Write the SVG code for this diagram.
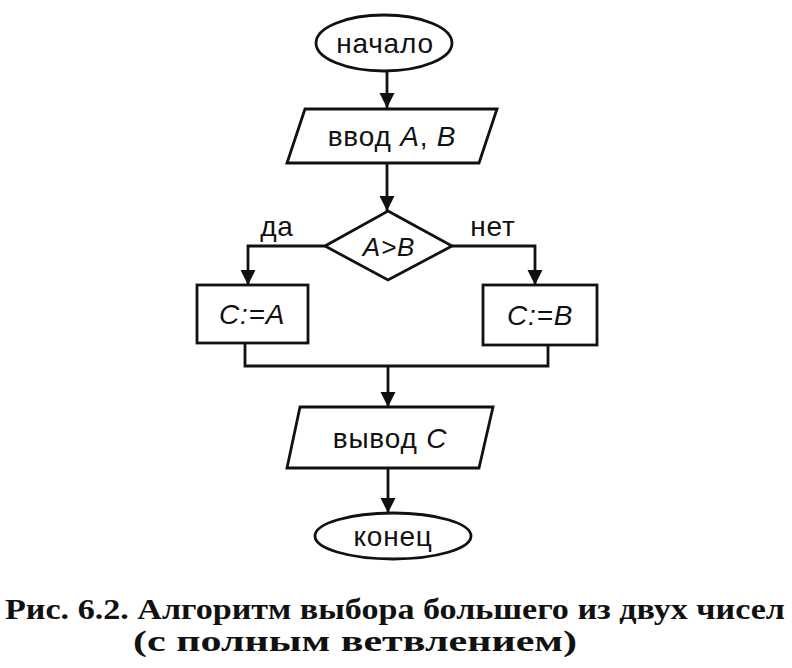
<svg xmlns="http://www.w3.org/2000/svg" width="792" height="668" viewBox="0 0 792 668">
<style>
.s{fill:#fff;stroke:#111;stroke-width:2.8}
.c{fill:none;stroke:#111;stroke-width:2.8}
.t{font-family:"Liberation Sans",Arial,sans-serif;font-size:28px;letter-spacing:0.8px;fill:#111;text-anchor:middle}
.i{font-style:italic}
.cap{font-family:"Liberation Serif","Times New Roman",serif;font-size:29px;fill:#111;font-weight:bold}
</style>
<defs>
<marker id="ah" viewBox="0 0 10 10" refX="10" refY="5" markerWidth="5.5" markerHeight="5.5" markerUnits="strokeWidth" orient="auto">
<path d="M0,0 L10,5 L0,10 z" fill="#111"/>
</marker>
</defs>
<rect width="792" height="668" fill="#fff"/>
<g id="connectors">
<path class="c" d="M387,72 V108" marker-end="url(#ah)"/>
<path class="c" d="M387,163 V211" marker-end="url(#ah)"/>
<path class="c" d="M325,246 H248 V285" marker-end="url(#ah)"/>
<path class="c" d="M452,246 H535 V285" marker-end="url(#ah)"/>
<path class="c" d="M245,343 V366 H548 V345"/>
<path class="c" d="M388,366 V407" marker-end="url(#ah)"/>
<path class="c" d="M388,468 V513" marker-end="url(#ah)"/>
</g>
<g id="start">
<ellipse class="s" cx="384" cy="43" rx="68" ry="28"/>
<text class="t" x="385" y="53">начало</text>
</g>
<g id="input">
<polygon class="s" points="305,109 497,109 479,163 287,163"/>
<text class="t" x="392" y="146">ввод <tspan class="i">A</tspan>, <tspan class="i">B</tspan></text>
</g>
<g id="decision">
<polygon class="s" points="388,211 452,246 388,280 325,246"/>
<text class="t i" x="389" y="256" style="font-size:26px">A&gt;B</text>
</g>
<g id="label-yes"><text class="t" x="277" y="236">да</text></g>
<g id="label-no"><text class="t" x="493" y="236">нет</text></g>
<g id="assignA">
<rect class="s" x="197" y="285" width="111" height="58"/>
<text class="t i" x="252" y="324">C:=A</text>
</g>
<g id="assignB">
<rect class="s" x="483" y="285" width="114" height="60"/>
<text class="t i" x="540" y="325">C:=B</text>
</g>
<g id="output">
<polygon class="s" points="300,407 493,407 479,468 287,468"/>
<text class="t" x="390" y="448">вывод <tspan class="i">C</tspan></text>
</g>
<g id="end">
<ellipse class="s" cx="393" cy="536" rx="78" ry="23"/>
<text class="t" x="393" y="546">конец</text>
</g>
<g id="caption">
<text class="cap" x="5" y="619" textLength="780" lengthAdjust="spacingAndGlyphs">Рис. 6.2. Алгоритм выбора большего из двух чисел</text>
<text class="cap" x="133" y="651" textLength="444" lengthAdjust="spacingAndGlyphs">(с полным ветвлением)</text>
</g>
</svg>
